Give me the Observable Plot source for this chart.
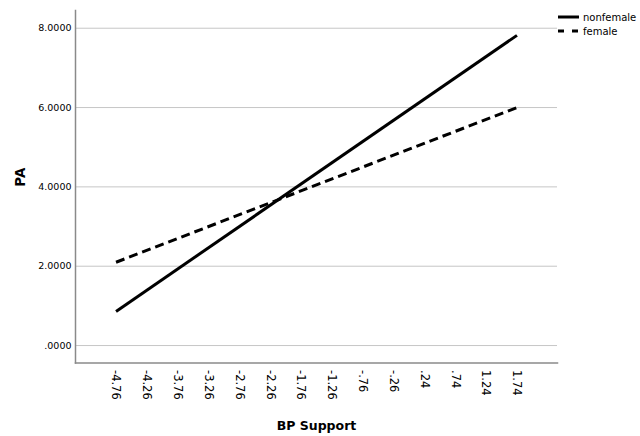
<!DOCTYPE html>
<html>
<head>
<meta charset="utf-8">
<script src="https://cdn.jsdelivr.net/npm/d3@7"></script>
<script src="https://cdn.jsdelivr.net/npm/@observablehq/plot@0.6"></script>
<style>
  html, body { margin: 0; padding: 0; background: #fff; }
  #wrap { position: relative; width: 640px; height: 436px; font-family: "DejaVu Sans", sans-serif; }
  #legend { position: absolute; left: 558px; top: 10px; font-size: 10px; color: #000; }
  #legend .row { display: flex; align-items: center; height: 14px; }
  #legend svg { margin-right: 4px; }
</style>
</head>
<body>
<div id="wrap"><div id="legend"></div></div>
<script>
// Data
const xTicks = [-4.76, -4.26, -3.76, -3.26, -2.76, -2.26, -1.76, -1.26, -0.76, -0.26, 0.24, 0.74, 1.24, 1.74];
const yTicks = [0, 2, 4, 6, 8];
const groups = ["nonfemale", "female"];
const xEnds = [-4.76, 1.74];
const nonfemaleVals = [0.86, 7.82];
const femaleVals = [2.10, 6.00];
const dashes = ["none", "9,5"];

const seriesVals = [nonfemaleVals, femaleVals];
const rows = groups.map((g, i) => xEnds.map((x, j) => ({group: g, x, y: seriesVals[i][j]})));

const fmtX = d => {
  const s = d.toFixed(2);
  return s.replace(/^(-?)0\./, "$1.");
};
const fmtY = d => d === 0 ? ".0000" : d.toFixed(4);

const chart = Plot.plot({
  width: 640,
  height: 436,
  marginLeft: 75,
  marginRight: 83,
  marginTop: 10,
  marginBottom: 73.5,
  style: {fontFamily: "DejaVu Sans, sans-serif", fontSize: "10px", color: "#000", background: "#fff"},
  x: {type: "linear", domain: [-5.417, 2.397]},
  y: {domain: [-0.44, 8.447]},
  marks: [
    Plot.gridY(yTicks, {stroke: "#c6c6c6", strokeOpacity: 1, strokeWidth: 1}),
    Plot.frame({anchor: "left", stroke: "#8a8a8a", strokeWidth: 1.5}),
    Plot.frame({anchor: "bottom", stroke: "#8a8a8a", strokeWidth: 1.5}),
    Plot.axisY(yTicks, {tickSize: 0, tickPadding: 4, tickFormat: fmtY, label: null, fontSize: 9.5, fill: "#000"}),
    Plot.axisX(xTicks, {tickSize: 0, tickPadding: 7, tickRotate: 90, tickFormat: fmtX, label: null, fontSize: 11.5, fill: "#000"}),
    Plot.text(["PA"], {frameAnchor: "left", dx: -55, rotate: -90, fontWeight: "bold", fontSize: 13.5, fill: "#000"}),
    Plot.text(["BP Support"], {frameAnchor: "bottom", dy: 66.5, fontWeight: "bold", fontSize: 12.5, fill: "#000"}),
    ...rows.map((r, i) => Plot.line(r, {x: "x", y: "y", stroke: "#000", strokeWidth: 3, strokeDasharray: dashes[i], strokeLinecap: "butt"}))
  ]
});
document.getElementById("wrap").prepend(chart);
chart.style.position = "absolute";
chart.style.left = "0";
chart.style.top = "0";

const legend = document.getElementById("legend");
groups.forEach((g, i) => {
  const row = document.createElement("div");
  row.className = "row";
  row.innerHTML = `<svg width="21" height="6"><line x1="0" x2="21" y1="3" y2="3" stroke="#000" stroke-width="3" stroke-dasharray="${dashes[i] === "none" ? "" : "6,8"}"/></svg><span>${g}</span>`;
  legend.appendChild(row);
});
</script>
</body>
</html>
